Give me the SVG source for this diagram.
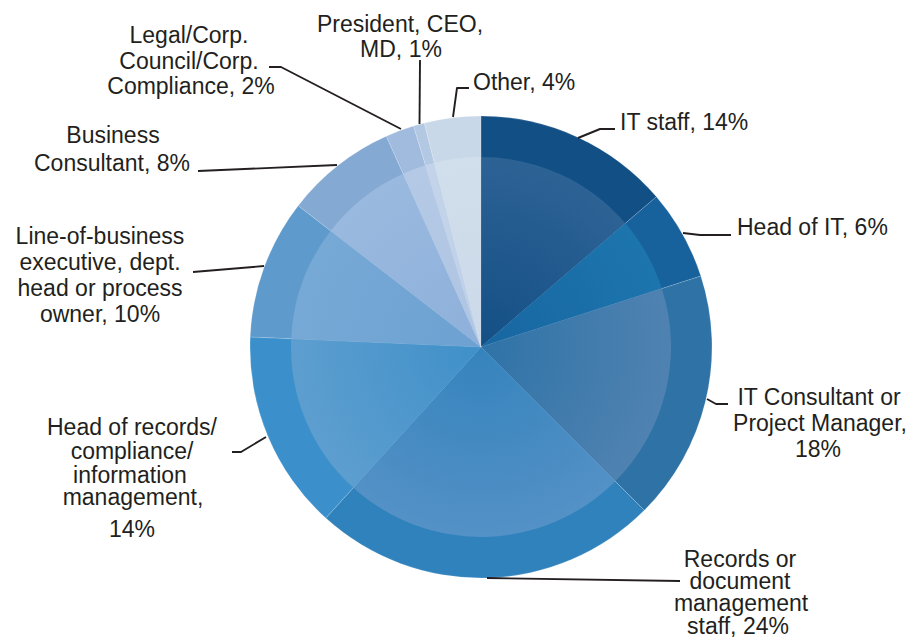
<svg xmlns="http://www.w3.org/2000/svg" width="915" height="641" viewBox="0 0 915 641">
<style>
  text { font-family: "Liberation Sans", Arial, sans-serif; font-size: 23px; fill: #231f20; }
  .m { text-anchor: middle; }
  .o { stroke: #ffffff; stroke-opacity: 0.25; stroke-width: 0.6; }
  .lead { fill: none; stroke: #231f20; stroke-width: 1.9; stroke-linejoin: round; }
</style>
<defs>
  <radialGradient id="g1" gradientUnits="userSpaceOnUse" cx="481" cy="347" r="190"><stop offset="0" stop-color="#134f85"/><stop offset="1" stop-color="#2d6295"/></radialGradient>
  <radialGradient id="g2" gradientUnits="userSpaceOnUse" cx="481" cy="347" r="190"><stop offset="0" stop-color="#1766a1"/><stop offset="1" stop-color="#1d75ae"/></radialGradient>
  <radialGradient id="g3" gradientUnits="userSpaceOnUse" cx="481" cy="347" r="190"><stop offset="0" stop-color="#2f73a7"/><stop offset="1" stop-color="#4f82b1"/></radialGradient>
  <radialGradient id="g4" gradientUnits="userSpaceOnUse" cx="481" cy="347" r="190"><stop offset="0" stop-color="#3583bd"/><stop offset="1" stop-color="#5391c6"/></radialGradient>
  <radialGradient id="g5" gradientUnits="userSpaceOnUse" cx="481" cy="347" r="190"><stop offset="0" stop-color="#3f90c9"/><stop offset="1" stop-color="#5d9ecf"/></radialGradient>
  <radialGradient id="g6" gradientUnits="userSpaceOnUse" cx="481" cy="347" r="190"><stop offset="0" stop-color="#6ca1d1"/><stop offset="1" stop-color="#77a9d6"/></radialGradient>
  <radialGradient id="g7" gradientUnits="userSpaceOnUse" cx="481" cy="347" r="190"><stop offset="0" stop-color="#8db0da"/><stop offset="1" stop-color="#9ab9df"/></radialGradient>
  <radialGradient id="g8" gradientUnits="userSpaceOnUse" cx="481" cy="347" r="190"><stop offset="0" stop-color="#aec5e3"/><stop offset="1" stop-color="#b4c9e5"/></radialGradient>
  <radialGradient id="g9" gradientUnits="userSpaceOnUse" cx="481" cy="347" r="190"><stop offset="0" stop-color="#bed0e8"/><stop offset="1" stop-color="#c3d4ea"/></radialGradient>
  <radialGradient id="g10" gradientUnits="userSpaceOnUse" cx="481" cy="347" r="190"><stop offset="0" stop-color="#cbd9e9"/><stop offset="1" stop-color="#d1deeb"/></radialGradient>
</defs>

<g id="it-staff">
  <path class="o" fill="#124f85" d="M481,347 L481,116 A231,231 0 0 1 656.4,196.7 Z"/>
  <path fill="url(#g1)" d="M481,347 L481,157 A190,190 0 0 1 625.3,223.3 Z"/>
  <text x="620" y="130">IT staff, 14%</text>
</g>
<g id="head-of-it">
  <path class="o" fill="#17629d" d="M481,347 L656.4,196.7 A231,231 0 0 1 700.8,276 Z"/>
  <path fill="url(#g2)" d="M481,347 L625.3,223.3 A190,190 0 0 1 661.8,288.6 Z"/>
  <text x="737" y="235">Head of IT, 6%</text>
</g>
<g id="it-consultant">
  <path class="o" fill="#2e72a6" d="M481,347 L700.8,276 A231,231 0 0 1 644.3,510.3 Z"/>
  <path fill="url(#g3)" d="M481,347 L661.8,288.6 A190,190 0 0 1 615.3,481.3 Z"/>
  <text class="m" x="819" y="405">IT Consultant or</text>
  <text class="m" x="820" y="431">Project Manager,</text>
  <text class="m" x="818" y="457">18%</text>
</g>
<g id="records-staff">
  <path class="o" fill="#3082bc" d="M481,347 L644.3,510.3 A231,231 0 0 1 325.8,518.1 Z"/>
  <path fill="url(#g4)" d="M481,347 L615.3,481.3 A190,190 0 0 1 353.4,487.8 Z"/>
  <text class="m" x="740" y="567">Records or</text>
  <text class="m" x="740" y="589">document</text>
  <text class="m" x="741" y="611">management</text>
  <text class="m" x="738" y="634">staff, 24%</text>
</g>
<g id="head-of-records">
  <path class="o" fill="#3b90cb" d="M481,347 L325.8,518.1 A231,231 0 0 1 250.2,336.9 Z"/>
  <path fill="url(#g5)" d="M481,347 L353.4,487.8 A190,190 0 0 1 291.2,338.7 Z"/>
  <text class="m" x="132" y="435">Head of records/</text>
  <text class="m" x="132" y="459">compliance/</text>
  <text class="m" x="130" y="483">information</text>
  <text class="m" x="133" y="505">management,</text>
  <text class="m" x="132" y="537">14%</text>
</g>
<g id="line-of-business">
  <path class="o" fill="#5e9acb" d="M481,347 L250.2,336.9 A231,231 0 0 1 298.2,205.7 Z"/>
  <path fill="url(#g6)" d="M481,347 L291.2,338.7 A190,190 0 0 1 330.7,230.8 Z"/>
  <text class="m" x="100" y="244">Line-of-business</text>
  <text class="m" x="100" y="270">executive, dept.</text>
  <text class="m" x="100" y="296">head or process</text>
  <text class="m" x="100" y="322">owner, 10%</text>
</g>
<g id="business-consultant">
  <path class="o" fill="#84a9d2" d="M481,347 L298.2,205.7 A231,231 0 0 1 386.3,136.3 Z"/>
  <path fill="url(#g7)" d="M481,347 L330.7,230.8 A190,190 0 0 1 403.1,173.7 Z"/>
  <text class="m" x="113" y="143">Business</text>
  <text class="m" x="112" y="171">Consultant, 8%</text>
</g>
<g id="legal">
  <path class="o" fill="#a0bbdd" d="M481,347 L386.3,136.3 A231,231 0 0 1 413.5,126.1 Z"/>
  <path fill="url(#g8)" d="M481,347 L403.1,173.7 A190,190 0 0 1 425.4,165.3 Z"/>
  <text class="m" x="189" y="43">Legal/Corp.</text>
  <text class="m" x="189" y="69">Council/Corp.</text>
  <text class="m" x="191" y="94">Compliance, 2%</text>
</g>
<g id="president">
  <path class="o" fill="#b3c9e3" d="M481,347 L413.5,126.1 A231,231 0 0 1 424.3,123.1 Z"/>
  <path fill="url(#g9)" d="M481,347 L425.4,165.3 A190,190 0 0 1 434.4,162.8 Z"/>
  <text class="m" x="400" y="32">President, CEO,</text>
  <text class="m" x="401" y="57">MD, 1%</text>
</g>
<g id="other">
  <path class="o" fill="#c9d8e8" d="M481,347 L424.3,123.1 A231,231 0 0 1 481,116 Z"/>
  <path fill="url(#g10)" d="M481,347 L434.4,162.8 A190,190 0 0 1 481,157 Z"/>
  <text x="473" y="90">Other, 4%</text>
</g>

<g id="connectors">
  <polyline class="lead" points="578,138 600,129 615,129"/>
  <polyline class="lead" points="683,233 700,235 731,235"/>
  <polyline class="lead" points="707,399 716,404 728,404"/>
  <polyline class="lead" points="487,578 680,581"/>
  <polyline class="lead" points="232,452 241,452 266,437"/>
  <polyline class="lead" points="193,272 264,266"/>
  <polyline class="lead" points="198,171 337,165"/>
  <polyline class="lead" points="269,67 281,67 401,129"/>
  <polyline class="lead" points="420,60 419.5,124"/>
  <polyline class="lead" points="469,88 457,88 453,117"/>
</g>
</svg>
